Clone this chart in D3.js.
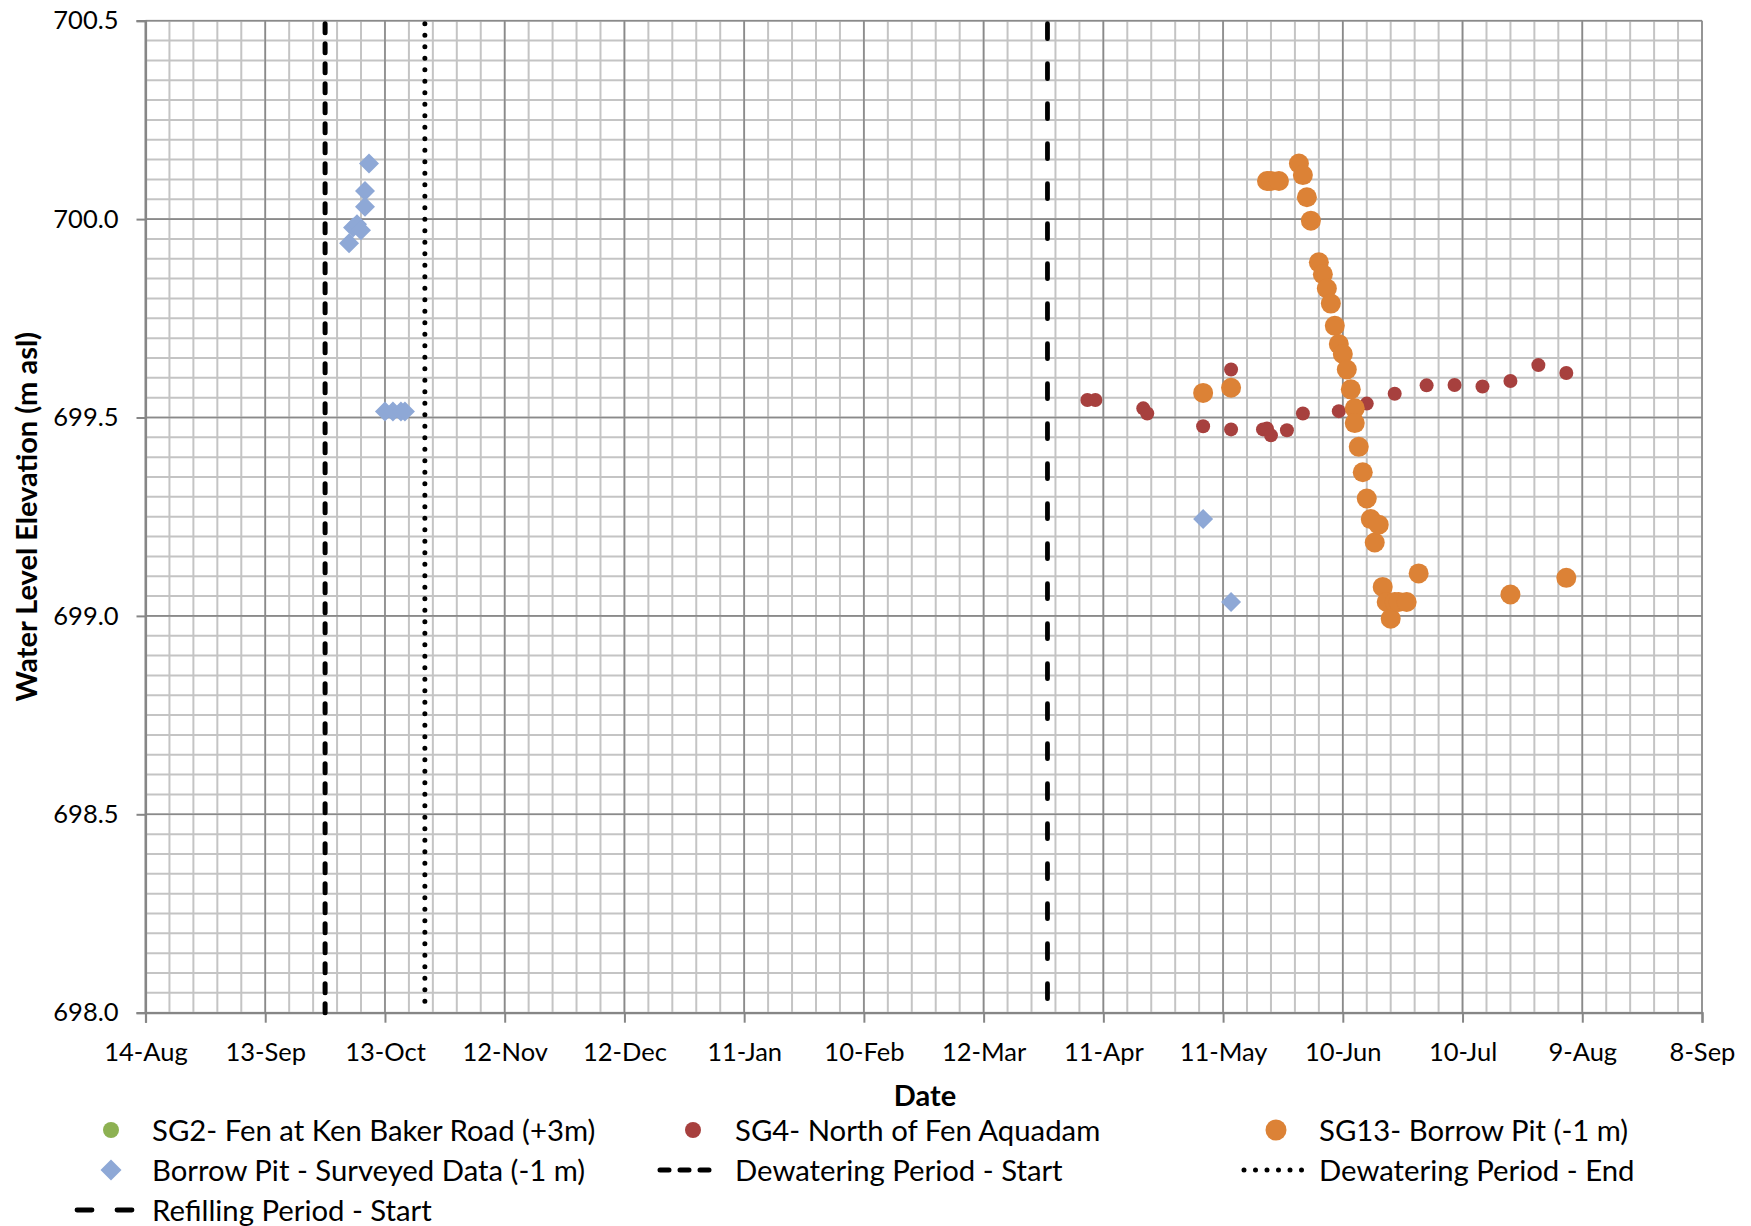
<!DOCTYPE html>
<html>
<head>
<meta charset="utf-8">
<script src="https://cdn.jsdelivr.net/npm/d3@7"></script>
<style>
  body { margin: 0; background: #fff; }
  text { font-family: Lato, "Open Sans", sans-serif; fill: #000; }
</style>
</head>
<body>
<svg id="chart"></svg>
<script>
// x axis tick dates (labels come from these), y axis ticks
var xTicks = ["2014-08-14", "2014-09-13", "2014-10-13", "2014-11-12", "2014-12-12", "2015-01-11",
    "2015-02-10", "2015-03-12", "2015-04-11", "2015-05-11", "2015-06-10", "2015-07-10",
    "2015-08-09", "2015-09-08"];
var yTicks = [698.0, 698.5, 699.0, 699.5, 700.0, 700.5];

// SG2 has no points inside the plotted range
var sg2 = [];

var sg4 = [
    ["2015-04-07", 699.544], ["2015-04-09", 699.544], ["2015-04-21", 699.523], ["2015-04-22", 699.510],
    ["2015-05-06", 699.478], ["2015-05-13", 699.621], ["2015-05-13", 699.470], ["2015-05-21", 699.470],
    ["2015-05-22", 699.472], ["2015-05-23", 699.455], ["2015-05-27", 699.468], ["2015-05-31", 699.510],
    ["2015-06-09", 699.516], ["2015-06-16", 699.535], ["2015-06-23", 699.560], ["2015-07-01", 699.581],
    ["2015-07-08", 699.582], ["2015-07-15", 699.578], ["2015-07-22", 699.592], ["2015-07-29", 699.632],
    ["2015-08-05", 699.612]
];

var sg13 = [
    ["2015-05-06", 699.562], ["2015-05-13", 699.575], ["2015-05-22", 700.096], ["2015-05-23", 700.096],
    ["2015-05-25", 700.096], ["2015-05-30", 700.140], ["2015-05-31", 700.111], ["2015-06-01", 700.055],
    ["2015-06-02", 699.996], ["2015-06-04", 699.891], ["2015-06-05", 699.861], ["2015-06-06", 699.825],
    ["2015-06-07", 699.787], ["2015-06-08", 699.731], ["2015-06-09", 699.685], ["2015-06-10", 699.660],
    ["2015-06-11", 699.621], ["2015-06-12", 699.571], ["2015-06-13", 699.523], ["2015-06-13", 699.486],
    ["2015-06-14", 699.426], ["2015-06-15", 699.362], ["2015-06-16", 699.296], ["2015-06-17", 699.244],
    ["2015-06-18", 699.185], ["2015-06-19", 699.230], ["2015-06-20", 699.073], ["2015-06-21", 699.035],
    ["2015-06-22", 698.993], ["2015-06-23", 699.035], ["2015-06-24", 699.035], ["2015-06-26", 699.035],
    ["2015-06-29", 699.107], ["2015-07-22", 699.054], ["2015-08-05", 699.096]
];

var borrowPit = [
    ["2014-10-04", 699.939], ["2014-10-05", 699.979], ["2014-10-06", 699.987], ["2014-10-07", 699.972],
    ["2014-10-08", 700.031], ["2014-10-08", 700.071], ["2014-10-09", 700.140], ["2014-10-13", 699.515],
    ["2014-10-15", 699.515], ["2014-10-17", 699.515], ["2014-10-18", 699.515], ["2015-05-06", 699.244],
    ["2015-05-13", 699.035]
];

var dewaterStart = "2014-09-28";
var dewaterEnd = "2014-10-23";
var refillStart = "2015-03-28";

var parseDate = d3.utcParse("%Y-%m-%d");
var fmt = d3.utcFormat("%-d-%b");

var W = 1751, H = 1226;
var plotL = 145.5, plotR = 1702, plotT = 20.7, plotB = 1012.7;

var start = parseDate(xTicks[0]), end = parseDate(xTicks[xTicks.length - 1]);
var x = d3.scaleUtc().domain([start, end]).range([plotL, plotR]);
var y = d3.scaleLinear().domain([698, 700.5]).range([plotB, plotT]);

var svg = d3.select("#chart").attr("width", W).attr("height", H);

// minor grid: every 6 days and every 0.05 m
var minorX = d3.range(0, 391, 6).map(function(d) { return d3.utcDay.offset(start, d); });
var minorY = d3.range(0, 51).map(function(i) { return 698 + i * 0.05; });

svg.append("g").selectAll("line").data(minorX).enter().append("line")
    .attr("x1", function(d) { return x(d); }).attr("x2", function(d) { return x(d); })
    .attr("y1", plotT).attr("y2", plotB)
    .attr("stroke", "#c4c4c4").attr("stroke-width", 2);

svg.append("g").selectAll("line").data(minorY).enter().append("line")
    .attr("x1", plotL).attr("x2", plotR)
    .attr("y1", function(d) { return y(d); }).attr("y2", function(d) { return y(d); })
    .attr("stroke", "#c4c4c4").attr("stroke-width", 2);

// major grid
svg.append("g").selectAll("line").data(xTicks).enter().append("line")
    .attr("x1", function(d) { return x(parseDate(d)); }).attr("x2", function(d) { return x(parseDate(d)); })
    .attr("y1", plotT).attr("y2", plotB)
    .attr("stroke", "#8a8a8a").attr("stroke-width", 1.6);

svg.append("g").selectAll("line").data(yTicks).enter().append("line")
    .attr("x1", plotL).attr("x2", plotR)
    .attr("y1", function(d) { return y(d); }).attr("y2", function(d) { return y(d); })
    .attr("stroke", "#8a8a8a").attr("stroke-width", 1.6);

// axes
var xAxis = d3.axisBottom(x)
    .tickValues(xTicks.map(parseDate))
    .tickFormat(fmt)
    .tickSize(10)
    .tickPadding(15);
var yAxis = d3.axisLeft(y)
    .tickValues(yTicks)
    .tickFormat(d3.format(".1f"))
    .tickSize(9)
    .tickPadding(18);

var gx = svg.append("g").attr("transform", "translate(0," + plotB + ")").call(xAxis);
var gy = svg.append("g").attr("transform", "translate(" + plotL + ",0)").call(yAxis);

[gx, gy].forEach(function(g) {
    g.select(".domain").attr("stroke", "#868686").attr("stroke-width", 2.2);
    g.selectAll(".tick line").attr("stroke", "#868686").attr("stroke-width", 2);
    g.selectAll(".tick text")
        .style("font-family", "Lato, 'Open Sans', sans-serif")
        .style("font-size", "25.5px")
        .attr("fill", "#000");
});
gx.selectAll(".tick text").attr("dy", "0.9em");

// axis titles
svg.append("text").text("Date")
    .attr("x", 925).attr("y", 1106)
    .attr("text-anchor", "middle")
    .style("font-size", "29px").style("font-weight", "bold");

svg.append("text").text("Water Level Elevation (m asl)")
    .attr("transform", "translate(37," + ((plotT + plotB) / 2) + ") rotate(-90)")
    .attr("text-anchor", "middle")
    .style("font-size", "29px").style("font-weight", "bold");

// period lines
var styles = {
    start: { dash: "9,11", width: 5 },
    end: { dash: "0,11.5", width: 5 },
    refill: { dash: "15,25", width: 4.8 }
};

[[dewaterStart, "start"], [dewaterEnd, "end"], [refillStart, "refill"]].forEach(function(p) {
    var xx = x(parseDate(p[0]));
    svg.append("line")
        .attr("x1", xx).attr("x2", xx)
        .attr("y1", plotT + 3).attr("y2", plotB)
        .attr("stroke", "#000")
        .attr("stroke-width", styles[p[1]].width)
        .attr("stroke-linecap", "round")
        .attr("stroke-dasharray", styles[p[1]].dash);
});

// points
var diamond = function(s) { return "M0," + (-s) + "L" + s + ",0L0," + s + "L" + (-s) + ",0Z"; };

svg.append("g").selectAll("circle").data(sg2).enter().append("circle")
    .attr("cx", function(d) { return x(parseDate(d[0])); })
    .attr("cy", function(d) { return y(d[1]); })
    .attr("r", 8).attr("fill", "#8db152");

svg.append("g").selectAll("circle").data(sg4).enter().append("circle")
    .attr("cx", function(d) { return x(parseDate(d[0])); })
    .attr("cy", function(d) { return y(d[1]); })
    .attr("r", 7).attr("fill", "#a7403e");

svg.append("g").selectAll("circle").data(sg13).enter().append("circle")
    .attr("cx", function(d) { return x(parseDate(d[0])); })
    .attr("cy", function(d) { return y(d[1]); })
    .attr("r", 10).attr("fill", "#dc8236");

svg.append("g").selectAll("path").data(borrowPit).enter().append("path")
    .attr("transform", function(d) { return "translate(" + x(parseDate(d[0])) + "," + y(d[1]) + ")"; })
    .attr("d", diamond(10))
    .attr("fill", "#8ea8d6");

// legend
var legend = [
    { label: "SG2- Fen at Ken Baker Road (+3m)", kind: "circle", r: 8, color: "#8db152", mx: 111, tx: 152, ly: 1130 },
    { label: "SG4- North of Fen Aquadam", kind: "circle", r: 8, color: "#a7403e", mx: 693, tx: 735, ly: 1130 },
    { label: "SG13- Borrow Pit (-1 m)", kind: "circle", r: 10.5, color: "#dc8236", mx: 1276, tx: 1319, ly: 1130 },
    { label: "Borrow Pit - Surveyed Data (-1 m)", kind: "diamond", r: 10.5, color: "#8ea8d6", mx: 111, tx: 152, ly: 1170 },
    { label: "Dewatering Period - Start", kind: "start", x0: 660, x1: 716, tx: 735, ly: 1170 },
    { label: "Dewatering Period - End", kind: "end", x0: 1244, x1: 1302, tx: 1319, ly: 1170 },
    { label: "Refilling Period - Start", kind: "refill", x0: 77, x1: 137, tx: 152, ly: 1210 }
];

legend.forEach(function(l) {
    if (l.kind === "circle") {
        svg.append("circle").attr("cx", l.mx).attr("cy", l.ly).attr("r", l.r).attr("fill", l.color);
    } else if (l.kind === "diamond") {
        svg.append("path").attr("transform", "translate(" + l.mx + "," + l.ly + ")")
            .attr("d", diamond(l.r)).attr("fill", l.color);
    } else {
        svg.append("line")
            .attr("x1", l.x0).attr("x2", l.x1).attr("y1", l.ly).attr("y2", l.ly)
            .attr("stroke", "#000")
            .attr("stroke-width", styles[l.kind].width)
            .attr("stroke-linecap", "round")
            .attr("stroke-dasharray", styles[l.kind].dash);
    }
    svg.append("text").text(l.label)
        .attr("x", l.tx).attr("y", l.ly).attr("dy", "0.36em")
        .style("font-size", "29.3px");
});
</script>
</body>
</html>
